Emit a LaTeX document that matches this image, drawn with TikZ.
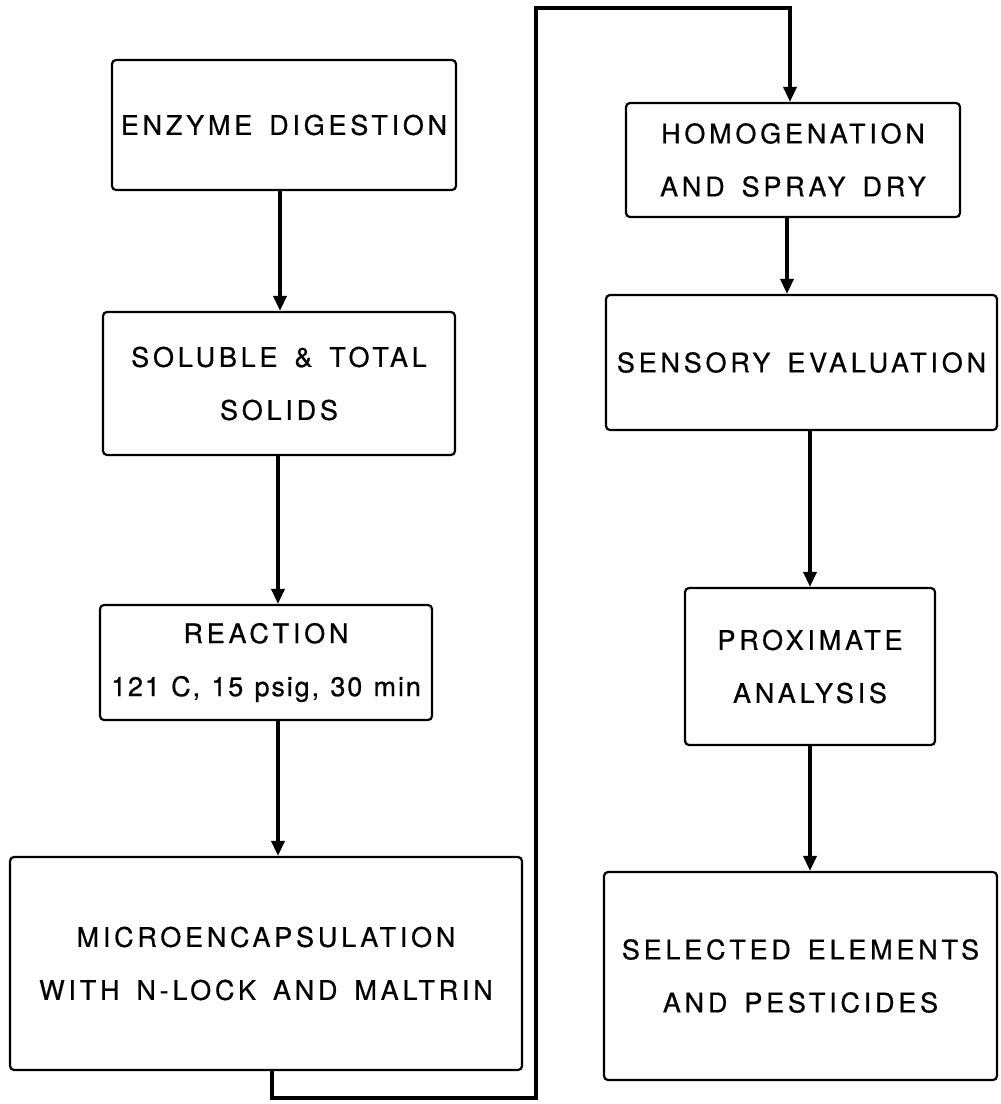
\documentclass[tikz,border=0pt]{standalone}
\usepackage{fontspec}
\setmainfont{TeX Gyre Heros}[LetterSpace=14, FakeBold=0.6, WordSpace=1.5]
\newfontfamily\narrowfont{TeX Gyre Heros}[LetterSpace=7, FakeBold=0.6, WordSpace=1.2]
\usetikzlibrary{arrows.meta}
\begin{document}
\begin{tikzpicture}[x=1pt,y=-1pt,
  stepbox/.style={draw, line width=2.2pt, rounded corners=4pt, inner sep=0pt,
    align=center, font=\fontsize{27}{53}\selectfont},
  arr/.style={line width=3.4pt, -{Triangle[width=13pt,length=15pt]}}]
\useasboundingbox (0,0) rectangle (1001,1104);
\node[stepbox, minimum width=344pt, minimum height=130pt] (b1) at (284,125) {ENZYME DIGESTION};
\node[stepbox, minimum width=352pt, minimum height=143pt] (b2) at (279,383.5) {SOLUBLE \& TOTAL\\SOLIDS};
\node[stepbox, minimum width=332pt, minimum height=115pt] (b3) at (266,662.5) {REACTION\\{\narrowfont 121 C, 15 psig, 30 min}};
\node[stepbox, minimum width=512pt, minimum height=213pt] (b4) at (266,963.5) {MICROENCAPSULATION\\WITH N-LOCK AND MALTRIN};
\node[stepbox, minimum width=334pt, minimum height=114pt] (b5) at (793,160) {HOMOGENATION\\AND SPRAY DRY};
\node[stepbox, minimum width=391pt, minimum height=135pt] (b6) at (801.5,362.5) {SENSORY EVALUATION};
\node[stepbox, minimum width=250pt, minimum height=157pt] (b7) at (810,666.5) {PROXIMATE\\ANALYSIS};
\node[stepbox, minimum width=393pt, minimum height=208pt] (b8) at (800.5,976) {SELECTED ELEMENTS\\AND PESTICIDES};
\coordinate (xa) at (280,0);
\coordinate (xb) at (278,0);
\coordinate (xc) at (787,0);
\coordinate (xd) at (810,0);
\coordinate (c1) at (272,1098);
\coordinate (c2) at (536,1098);
\coordinate (c3) at (536,8);
\coordinate (c4) at (790,8);
\draw[arr] (b1.south -| xa) -- (b2.north -| xa);
\draw[arr] (b2.south -| xb) -- (b3.north -| xb);
\draw[arr] (b3.south -| xb) -- (b4.north -| xb);
\draw[arr] (b4.south -| c1) -- (c1) -- (c2) -- (c3) -- (c4) -- (b5.north -| c4);
\draw[arr] (b5.south -| xc) -- (b6.north -| xc);
\draw[arr] (b6.south -| xd) -- (b7.north -| xd);
\draw[arr] (b7.south -| xd) -- (b8.north -| xd);
\end{tikzpicture}
\end{document}
